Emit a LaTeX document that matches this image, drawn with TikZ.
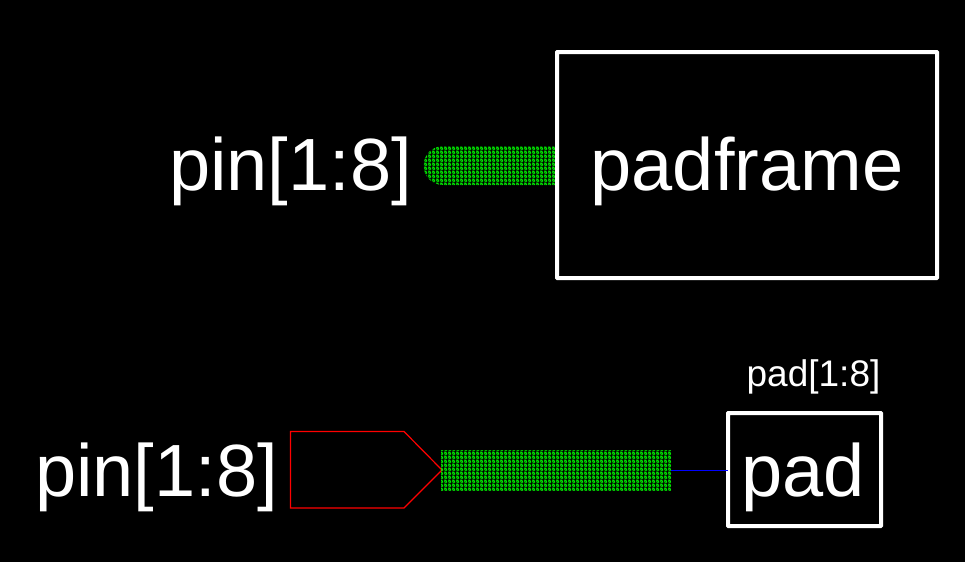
\documentclass[tikz,border=0pt]{standalone}
\usepackage{fontspec}
\setmainfont{Liberation Sans}
\usetikzlibrary{patterns}
\pgfdeclarepatternformonly{wirecheck}{\pgfqpoint{0pt}{0pt}}{\pgfqpoint{4pt}{4pt}}{\pgfqpoint{4pt}{4pt}}{%
  \pgfpathrectangle{\pgfqpoint{1pt}{0pt}}{\pgfqpoint{1pt}{1pt}}%
  \pgfpathrectangle{\pgfqpoint{3pt}{0pt}}{\pgfqpoint{1pt}{1pt}}%
  \pgfpathrectangle{\pgfqpoint{0pt}{1pt}}{\pgfqpoint{1pt}{1pt}}%
  \pgfpathrectangle{\pgfqpoint{2pt}{1pt}}{\pgfqpoint{2pt}{1pt}}%
  \pgfpathrectangle{\pgfqpoint{1pt}{2pt}}{\pgfqpoint{1pt}{1pt}}%
  \pgfpathrectangle{\pgfqpoint{3pt}{2pt}}{\pgfqpoint{1pt}{1pt}}%
  \pgfpathrectangle{\pgfqpoint{0pt}{3pt}}{\pgfqpoint{2pt}{1pt}}%
  \pgfpathrectangle{\pgfqpoint{2pt}{3pt}}{\pgfqpoint{1pt}{1pt}}%
  \pgfusepath{fill}}
\definecolor{wiregreen}{RGB}{0,255,0}
\tikzset{
  x=1pt,y=-1pt,
  frame/.style={draw=white,line width=4pt,inner sep=0pt,outer sep=0pt,rounded corners=0.5pt},
  big/.style={text=white,inner sep=0pt,font=\fontsize{74}{74}\selectfont},
  small/.style={text=white,inner sep=0pt,font=\fontsize{37}{37}\selectfont},
  bus/.style={pattern=wirecheck,pattern color=wiregreen},
}
\begin{document}
\begin{tikzpicture}
\useasboundingbox (0,0) rectangle (965,562);
\fill[black] (0,0) rectangle (965,562);
% top bus
\fill[bus] (557,146) -- (443,146) arc[start angle=270,end angle=90,radius=19.5] -- (557,185) -- cycle;
\node[frame,minimum width=380pt,minimum height=226pt] (padframe) at (747,165) {};
\node[big,anchor=base] (padframetext) at (747,190) {padframe};
\node[big,anchor=base east] (pinA) at (412,190) {pin[1:8]};
% bottom
\draw[red,line width=1.2pt] (290.5,431.5) -- (404,431.5) -- (442,470) -- (404,508) -- (290.5,508) -- cycle;
\coordinate (busend) at (671,470.5);
\fill[bus] (441,450) rectangle (671,490);
\node[frame,minimum width=153pt,minimum height=113pt] (pad) at (804.5,469.5) {};
\node[big,anchor=base] (padtext) at (803,496) {pad};
\draw[blue,line width=1.2pt] (busend) -- (pad.west |- busend);
\node[big,anchor=base east] (pinB) at (278,496) {pin[1:8]};
\node[small,anchor=base] (padlabel) at (813.5,386) {pad[1:8]};
\end{tikzpicture}
\end{document}
